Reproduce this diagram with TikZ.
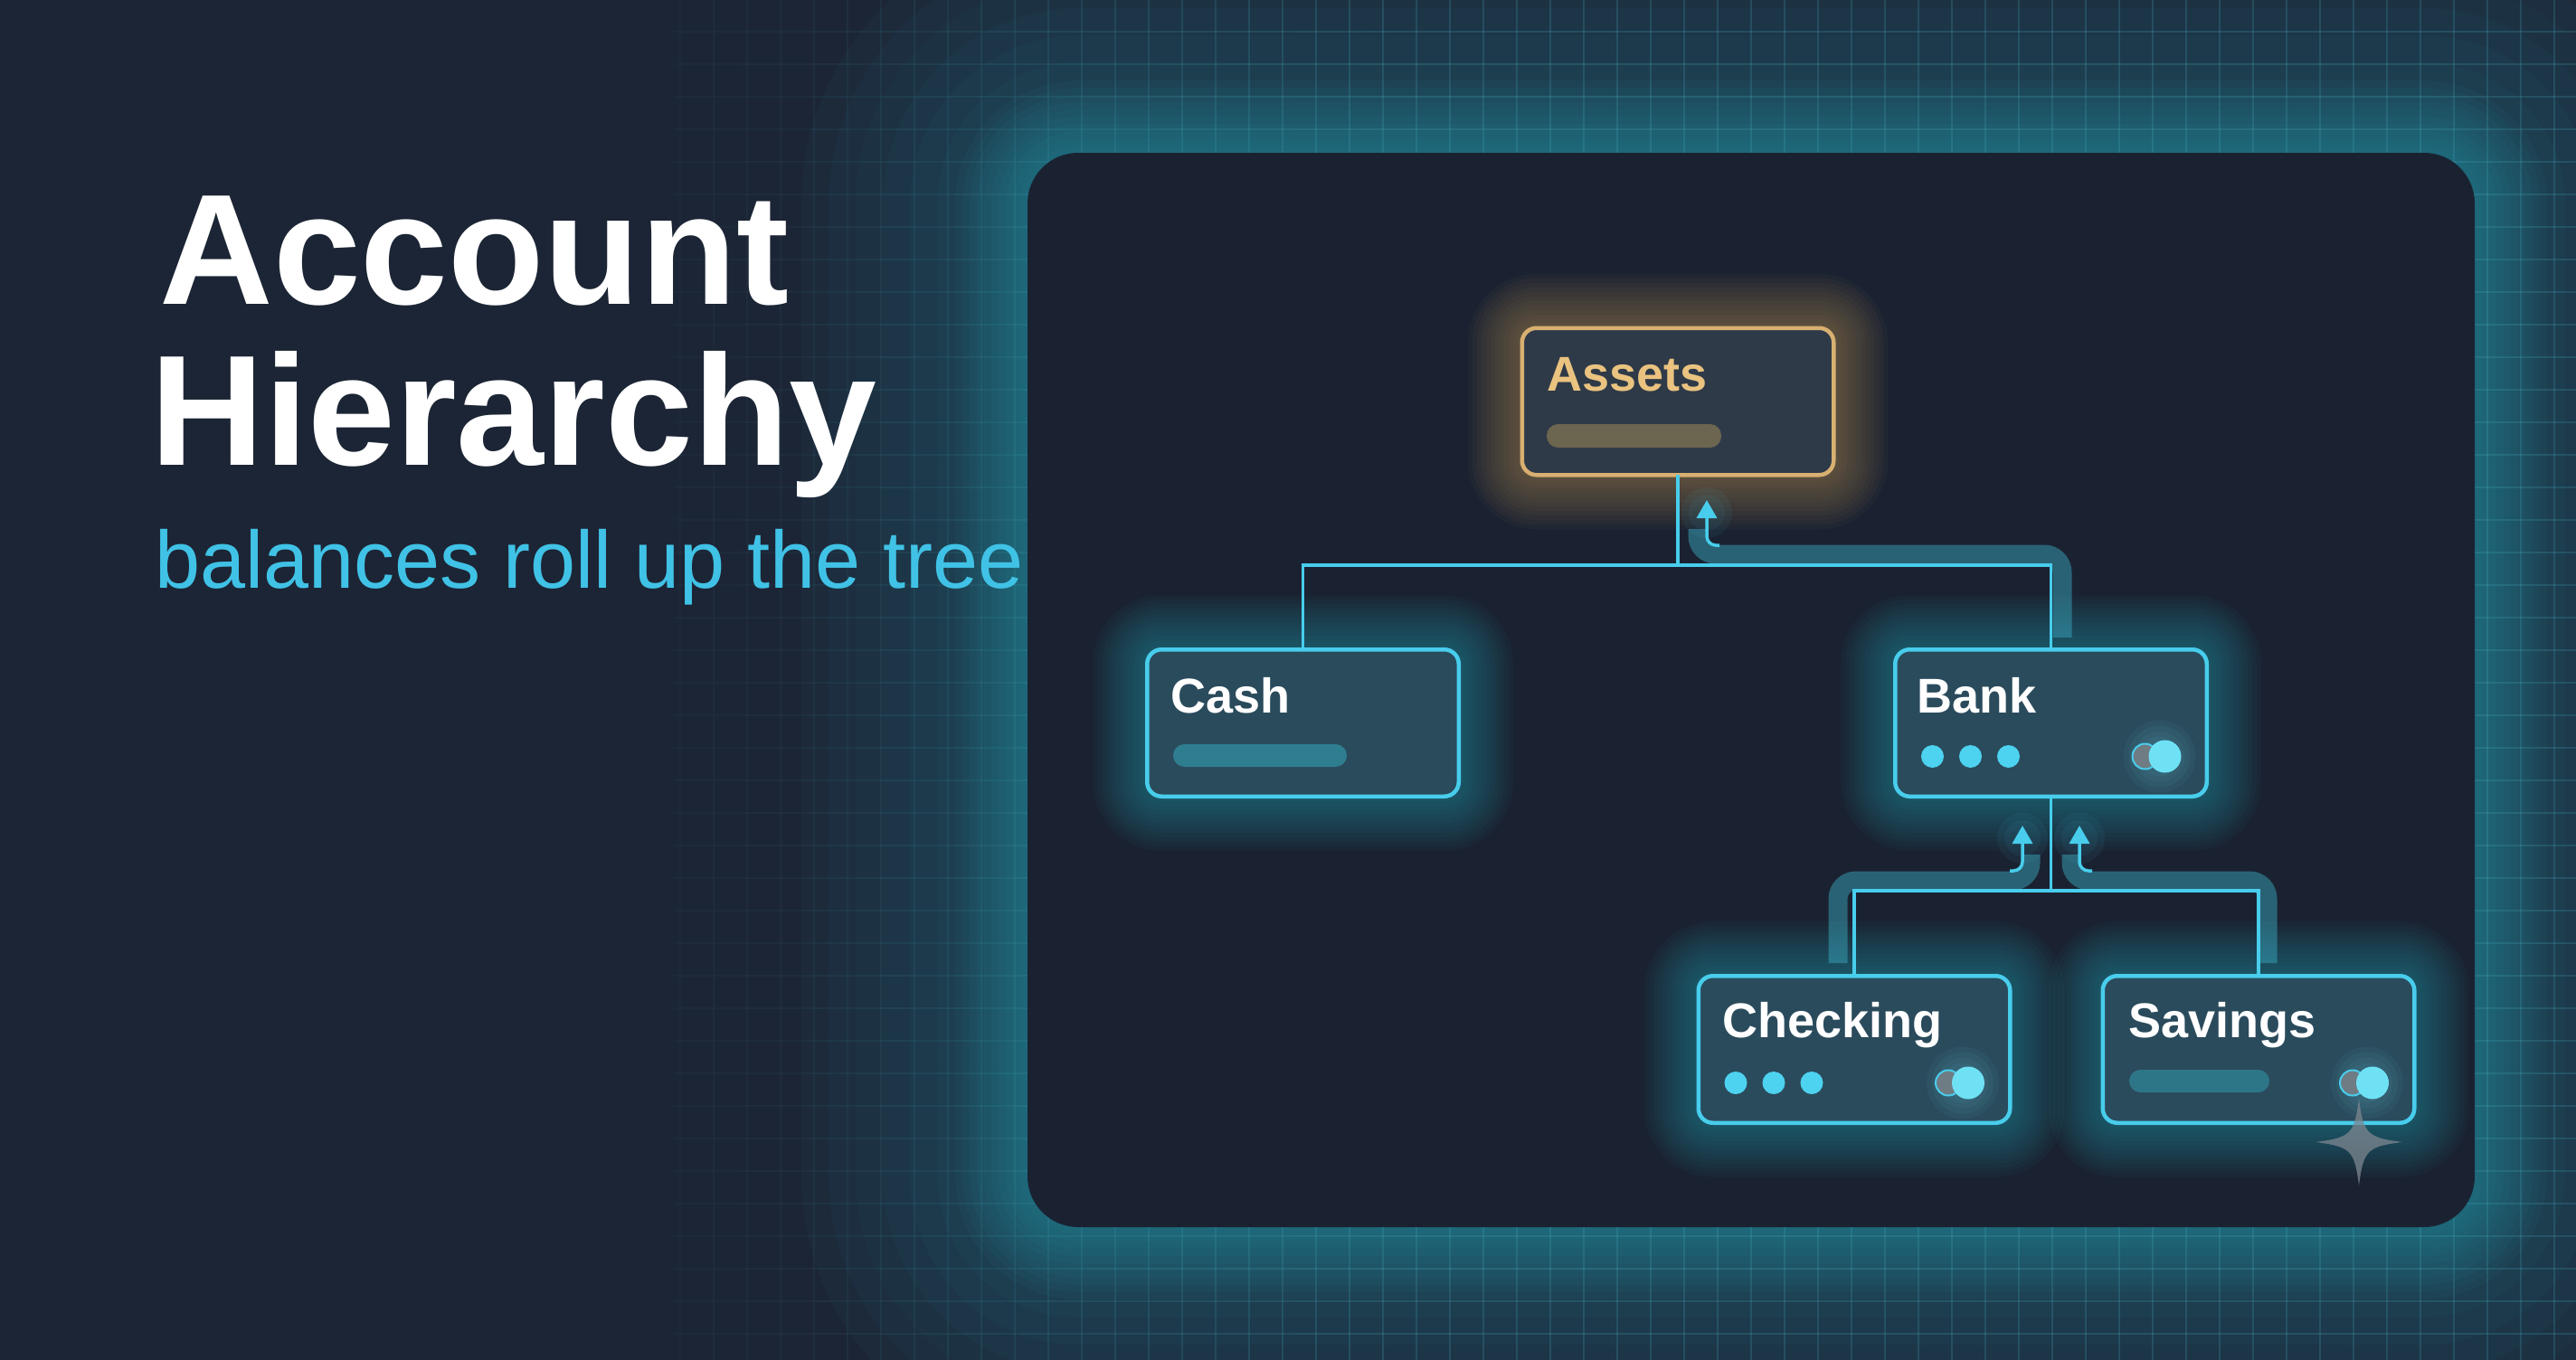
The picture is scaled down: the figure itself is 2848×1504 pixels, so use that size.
\documentclass[tikz,border=0pt]{standalone}
\usepackage{fontspec}
\setmainfont{Liberation Sans}
\usetikzlibrary{calc,arrows.meta}
\definecolor{bgc}{HTML}{1C2535}
\definecolor{panelc}{HTML}{1A2231}
\definecolor{glowc}{HTML}{2FA7BA}
\definecolor{cyanline}{HTML}{48CDEC}
\definecolor{cardfill}{HTML}{2A4B5C}
\definecolor{goldline}{HTML}{D8B071}
\definecolor{goldtext}{HTML}{EAC380}
\definecolor{goldfill}{HTML}{2F3A48}
\definecolor{goldbar}{HTML}{6C6550}
\definecolor{goldglow}{HTML}{C49A55}
\definecolor{tealbar}{HTML}{2E7E90}
\definecolor{subcyan}{HTML}{40C2E6}
\definecolor{gridc}{HTML}{4AB0C4}
\definecolor{bandc}{HTML}{3AA3BA}
\definecolor{dotc}{HTML}{4DD2F0}
\definecolor{knob}{HTML}{6FE1F5}
\definecolor{knobgray}{HTML}{6F7C84}
\definecolor{sparkc}{HTML}{7D8790}
\pgfdeclarelayer{backlayer}
\pgfdeclarelayer{glowlayer}
\pgfsetlayers{backlayer,glowlayer,main}
\newcommand\boxglow[2]{\foreach \w in {5,10,...,60}{\draw[#2, line width=\w pt, opacity=0.045, line join=round, rounded corners=8pt] (#1.south west) rectangle (#1.north east);}}
\newcommand\dotsrow[1]{\foreach \dx in {-131,-89,-47}{\fill[dotc] ($(#1.center)+(\dx,37)$) circle[radius=6.25pt];}}
\newcommand\toggleknob[1]{%
  \foreach \r in {11,14,17,20}{\fill[knob, opacity=0.05] ($(#1.center)+(120,37)$) circle[radius=\r pt];}
  \filldraw[fill=knobgray, draw=cyanline, line width=1pt] ($(#1.center)+(104,37)$) circle[radius=7pt];
  \fill[knob] ($(#1.center)+(126,37)$) circle[radius=9pt];}
\begin{document}
\begin{tikzpicture}[x=0.5pt,y=-0.5pt,
  card/.style={draw=cyanline, line width=2.25pt, fill=cardfill, rounded corners=8pt,
    minimum width=172.25pt, minimum height=81.25pt, inner sep=0pt, outer sep=0pt},
  goldcard/.style={card, draw=goldline, fill=goldfill},
  lbl/.style={anchor=base west, inner sep=0pt, outer sep=0pt,
    font=\fontsize{27}{30}\selectfont\bfseries, text=white},
  conn/.style={draw=cyanline, line width=1.75pt},
  flowband/.style={draw=bandc, line width=10.5pt, opacity=0.5, rounded corners=10pt},
  stem/.style={draw=cyanline, line width=1.75pt, rounded corners=5pt,
    -{Triangle[width=11pt,length=10pt]}},
  pillbar/.style={rounded corners=6.25pt},
]
\useasboundingbox (0,0) rectangle (2848,1504);

% panel (geometry only; painted on back layer)
\node[inner sep=0pt, outer sep=0pt, minimum width=800pt, minimum height=594pt] (panel) at (1936,763) {};

\begin{pgfonlayer}{backlayer}
  \fill[bgc] (0,0) rectangle (2848,1504);
  \foreach \w in {100,130,...,250}{
    \draw[glowc, line width=\w pt, opacity=0.04, line join=round, rounded corners=28pt]
      (panel.south west) rectangle (panel.north east);}
  \foreach \w in {8,16,...,80}{
    \draw[glowc, line width=\w pt, opacity=0.055, line join=round, rounded corners=28pt]
      (panel.south west) rectangle (panel.north east);}
  % grid
  \foreach \gx in {0,...,56}{
    \pgfmathsetmacro\xx{2824-37*\gx}
    \pgfmathsetmacro\op{min(0.2,0.03+0.17*(\xx-746)/750)}
    \draw[gridc, line width=0.8pt, opacity=\op] (\xx,0) -- (\xx,1504);}
  \foreach \gy in {0,...,40}{
    \pgfmathsetmacro\yy{35+36*\gy}
    \foreach \sx in {0,...,27}{
      \pgfmathsetmacro\xa{746+76*\sx}
      \pgfmathsetmacro\xb{\xa+76}
      \pgfmathsetmacro\op{min(0.2,0.03+0.17*(\xa+38-746)/750)}
      \draw[gridc, line width=0.8pt, opacity=\op] (\xa,\yy) -- (\xb,\yy);}}
  \fill[panelc, rounded corners=28pt] (panel.south west) rectangle (panel.north east);
\end{pgfonlayer}

% title
\node[anchor=base west, inner sep=0pt, font=\fontsize{87}{90}\selectfont\bfseries, text=white] (t1) at (176,336) {Account};
\node[anchor=base west, inner sep=0pt, font=\fontsize{87}{90}\selectfont\bfseries, text=white] (t2) at (166,514) {Hierarchy};
\node[anchor=base west, inner sep=0pt, font=\fontsize{45}{50}\selectfont, text=subcyan] (sub) at (171,650) {balances roll up the tree};

% cards
\node[goldcard] (assets) at (1855,444) {};
\node[card] (cash) at (1440.5,799.5) {};
\node[card] (bank) at (2267.5,799.5) {};
\node[card] (checking) at (2050,1160.5) {};
\node[card] (savings) at (2497,1160.5) {};

\begin{pgfonlayer}{glowlayer}
  \boxglow{assets}{goldglow}
  \boxglow{cash}{glowc}
  \boxglow{bank}{glowc}
  \boxglow{checking}{glowc}
  \boxglow{savings}{glowc}
  % flow bands
  \draw[flowband] (1877,585) -- (1877,613) -- (2280,613) -- (2280,705);
  \draw[flowband] (2245,945) -- (2245,974) -- (2032,974) -- (2032,1065);
  \draw[flowband] (2290,945) -- (2290,974) -- (2507,974) -- (2507,1065);
\end{pgfonlayer}

% labels
\node[lbl, text=goldtext] (lassets) at ($(assets.center)+(-145,-12)$) {Assets};
\node[lbl] (lcash) at ($(cash.center)+(-146,-11.5)$) {Cash};
\node[lbl] (lbank) at ($(bank.center)+(-148,-11.5)$) {Bank};
\node[lbl] (lchecking) at ($(checking.center)+(-146,-13.5)$) {Checking};
\node[lbl] (lsavings) at ($(savings.center)+(-144,-13.5)$) {Savings};

% bars
\fill[goldbar, pillbar] ($(assets.center)+(-145,25)$) rectangle ($(assets.center)+(48,51)$);
\fill[tealbar, pillbar] ($(cash.center)+(-143.5,23.5)$) rectangle ($(cash.center)+(48.5,48.5)$);
\fill[tealbar, pillbar, opacity=0.85] ($(savings.center)+(-143,22.5)$) rectangle ($(savings.center)+(12,47.5)$);

% dots and toggles
\dotsrow{bank}
\dotsrow{checking}
\toggleknob{bank}
\toggleknob{checking}
\toggleknob{savings}

% connectors
\coordinate (j1) at (1855,625);
\coordinate (j2) at (2267.5,985);
\draw[conn] (assets.south) -- (j1);
\draw[conn] (cash.north) |- (j1) -| (bank.north);
\draw[conn] (bank.south) -- (j2);
\draw[conn] (checking.north) |- (j2) -| (savings.north);

% roll-up arrows
\coordinate (up1) at (1887,553);
\coordinate (up2) at (2236,913);
\coordinate (up3) at (2299,913);
\foreach \p in {up1,up2,up3}{
  \fill[cyanline, opacity=0.06] (\p) ++(0,14) circle[radius=14pt];
  \fill[cyanline, opacity=0.06] (\p) ++(0,14) circle[radius=10pt];}
\draw[stem] (1901,603) -- (1887,603) -- (up1);
\draw[stem] (2222,963) -- (2236,963) -- (up2);
\draw[stem] (2313,963) -- (2299,963) -- (up3);

% sparkle
\coordinate (spark) at ($(savings.center)+(111,102.5)$);
\fill[sparkc, opacity=0.75] ($(spark)+(0,-48)$)
  .. controls ($(spark)+(5,-9)$) and ($(spark)+(9,-5)$) .. ($(spark)+(48,0)$)
  .. controls ($(spark)+(9,5)$) and ($(spark)+(5,9)$) .. ($(spark)+(0,48)$)
  .. controls ($(spark)+(-5,9)$) and ($(spark)+(-9,5)$) .. ($(spark)+(-48,0)$)
  .. controls ($(spark)+(-9,-5)$) and ($(spark)+(-5,-9)$) .. cycle;
\end{tikzpicture}
\end{document}
